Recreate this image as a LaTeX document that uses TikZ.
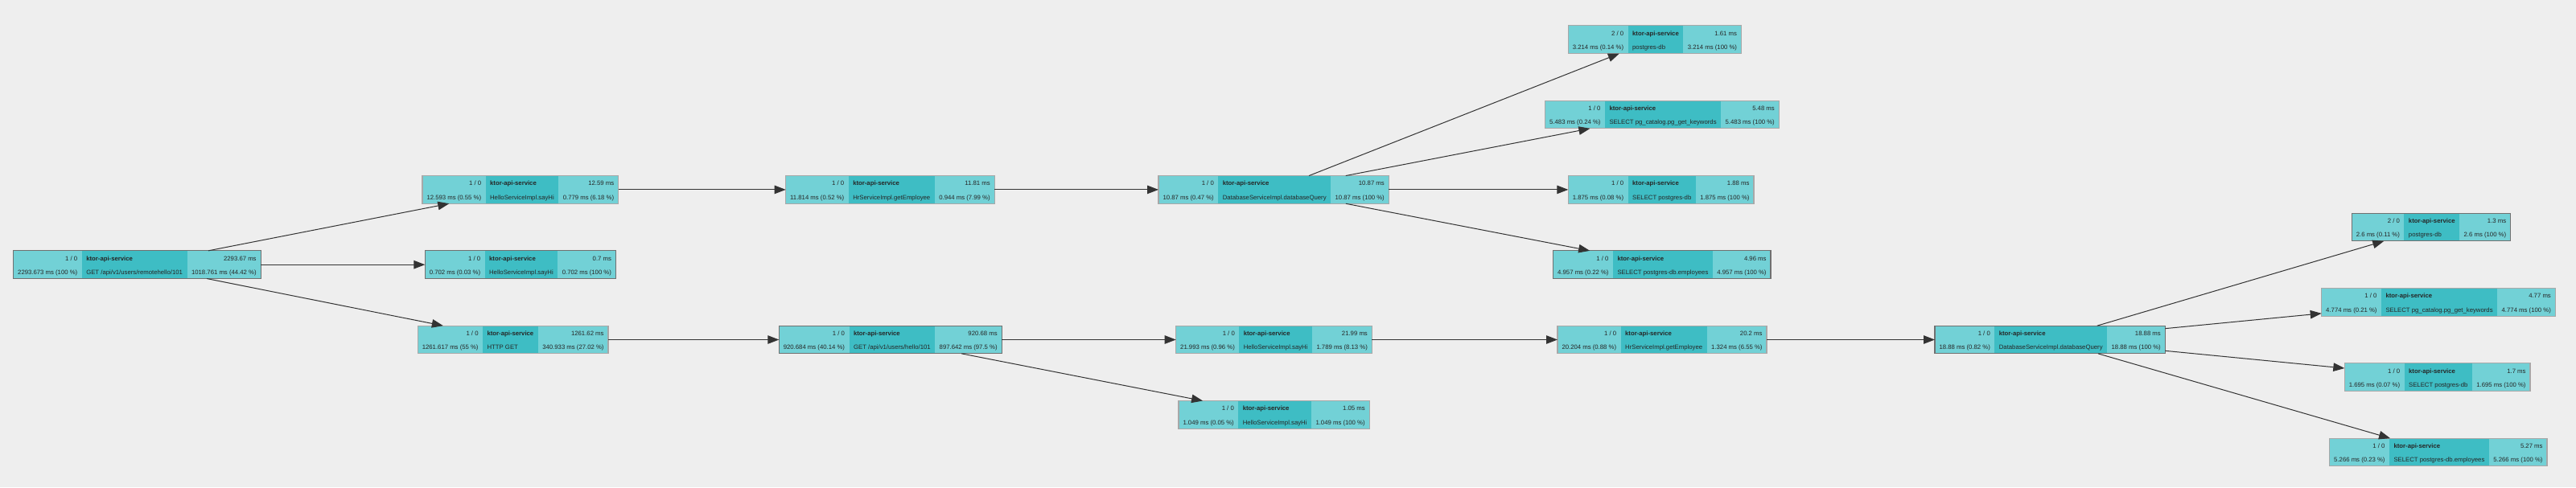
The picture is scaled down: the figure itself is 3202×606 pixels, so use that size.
\documentclass[tikz,border=0pt]{standalone}
\usepackage{fontspec}
\setmainfont{Liberation Sans}
\usetikzlibrary{positioning,fit,arrows.meta}

\definecolor{pagebg}{HTML}{EEEEEE}
\definecolor{spanlight}{HTML}{72D1D6}
\definecolor{spandark}{HTML}{3EBDC4}
\definecolor{spantext}{HTML}{262626}
\definecolor{spanline}{HTML}{333333}
\definecolor{framelight}{HTML}{A8A8A8}
\definecolor{framedark}{HTML}{707070}

\tikzset{
  spancell/.style={inner xsep=5.5pt, inner ysep=0pt, outer sep=0pt,
    minimum height=34.7pt, text=spantext, font=\fontsize{7.75}{17.3}\selectfont},
  spanframe/.style={draw=framelight, line width=1.2pt, inner sep=0pt, outer sep=0pt},
  darkframe/.style={spanframe, draw=framedark},
  spanedge/.style={draw=spanline, line width=1pt, -{Triangle[length=14pt,width=10.5pt]}},
}

% one span box: [frame] name, x, y, count, avg, total, operation, self time
\newcommand{\tracespan}[9][spanframe]{%
  \node[spancell, fill=spanlight, anchor=west] (#2-l) at (#3,#4)
    {\begin{tabular}{@{}r@{}}#5\\#7\end{tabular}};
  \node[spancell, fill=spandark, right=0pt of #2-l] (#2-m)
    {\begin{tabular}{@{}l@{}}\textbf{ktor-api-service}\\#8\end{tabular}};
  \node[spancell, fill=spanlight, right=0pt of #2-m] (#2-r)
    {\begin{tabular}{@{}r@{}}#6\\#9\end{tabular}};
  \node[#1, fit=(#2-l)(#2-r)] (#2) {};
}

\begin{document}
\begin{tikzpicture}[x=1pt, y=-1pt]
   \fill[pagebg] (0,0) rectangle (3202,606);

   \tracespan[darkframe]{root}{16.7}{329.2}{1 / 0}{2293.67 ms}{2293.673 ms (100 \%)}{GET /api/v1/users/remotehello/101}{1018.761 ms (44.42 \%)}

   \tracespan{say1}{525}{235.9}{1 / 0}{12.59 ms}{12.593 ms (0.55 \%)}{HelloServiceImpl.sayHi}{0.779 ms (6.18 \%)}
   \tracespan[darkframe]{say2}{528.3}{329.2}{1 / 0}{0.7 ms}{0.702 ms (0.03 \%)}{HelloServiceImpl.sayHi}{0.702 ms (100 \%)}
   \tracespan{http}{519.3}{422.5}{1 / 0}{1261.62 ms}{1261.617 ms (55 \%)}{HTTP GET}{340.933 ms (27.02 \%)}

   \tracespan{emp1}{976.7}{235.9}{1 / 0}{11.81 ms}{11.814 ms (0.52 \%)}{HrServiceImpl.getEmployee}{0.944 ms (7.99 \%)}
   \tracespan[darkframe]{hello}{968.3}{422.5}{1 / 0}{920.68 ms}{920.684 ms (40.14 \%)}{GET /api/v1/users/hello/101}{897.642 ms (97.5 \%)}

   \tracespan{db1}{1440}{235.9}{1 / 0}{10.87 ms}{10.87 ms (0.47 \%)}{DatabaseServiceImpl.databaseQuery}{10.87 ms (100 \%)}
   \tracespan{say3}{1461.7}{422.5}{1 / 0}{21.99 ms}{21.993 ms (0.96 \%)}{HelloServiceImpl.sayHi}{1.789 ms (8.13 \%)}
   \tracespan{say4}{1465}{515.9}{1 / 0}{1.05 ms}{1.049 ms (0.05 \%)}{HelloServiceImpl.sayHi}{1.049 ms (100 \%)}

   \tracespan{pg1}{1949.3}{49.2}{2 / 0}{1.61 ms}{3.214 ms (0.14 \%)}{postgres-db}{3.214 ms (100 \%)}
   \tracespan{kw1}{1920.7}{142.5}{1 / 0}{5.48 ms}{5.483 ms (0.24 \%)}{SELECT pg\_catalog.pg\_get\_keywords}{5.483 ms (100 \%)}
   \tracespan{sel1}{1949.3}{235.9}{1 / 0}{1.88 ms}{1.875 ms (0.08 \%)}{SELECT postgres-db}{1.875 ms (100 \%)}
   \tracespan[darkframe]{emps1}{1930.7}{329.2}{1 / 0}{4.96 ms}{4.957 ms (0.22 \%)}{SELECT postgres-db.employees}{4.957 ms (100 \%)}
   \tracespan{emp2}{1936}{422.5}{1 / 0}{20.2 ms}{20.204 ms (0.88 \%)}{HrServiceImpl.getEmployee}{1.324 ms (6.55 \%)}

   \tracespan[darkframe]{db2}{2405}{422.5}{1 / 0}{18.88 ms}{18.88 ms (0.82 \%)}{DatabaseServiceImpl.databaseQuery}{18.88 ms (100 \%)}

   \tracespan[darkframe]{pg2}{2923.3}{282.5}{2 / 0}{1.3 ms}{2.6 ms (0.11 \%)}{postgres-db}{2.6 ms (100 \%)}
   \tracespan{kw2}{2885.7}{375.9}{1 / 0}{4.77 ms}{4.774 ms (0.21 \%)}{SELECT pg\_catalog.pg\_get\_keywords}{4.774 ms (100 \%)}
   \tracespan{sel2}{2914.3}{469.2}{1 / 0}{1.7 ms}{1.695 ms (0.07 \%)}{SELECT postgres-db}{1.695 ms (100 \%)}
   \tracespan{emps2}{2895.7}{562.5}{1 / 0}{5.27 ms}{5.266 ms (0.23 \%)}{SELECT postgres-db.employees}{5.266 ms (100 \%)}

   \draw[spanedge] (root) -- (say1);
   \draw[spanedge] (root) -- (say2);
   \draw[spanedge] (root) -- (http);
   \draw[spanedge] (say1) -- (emp1);
   \draw[spanedge] (emp1) -- (db1);
   \draw[spanedge] (db1) -- (pg1);
   \draw[spanedge] (db1) -- (kw1);
   \draw[spanedge] (db1) -- (sel1);
   \draw[spanedge] (db1) -- (emps1);
   \draw[spanedge] (http) -- (hello);
   \draw[spanedge] (hello) -- (say3);
   \draw[spanedge] (hello) -- (say4);
   \draw[spanedge] (say3) -- (emp2);
   \draw[spanedge] (emp2) -- (db2);
   \draw[spanedge] (db2) -- (pg2);
   \draw[spanedge] (db2) -- (kw2);
   \draw[spanedge] (db2) -- (sel2);
   \draw[spanedge] (db2) -- (emps2);
\end{tikzpicture}
\end{document}
